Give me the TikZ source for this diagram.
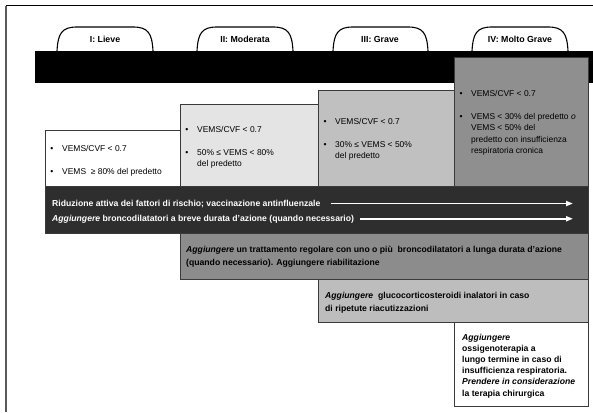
\documentclass[tikz,border=0pt]{standalone}
\usepackage{fontspec}
\setmainfont{Liberation Sans}
\usetikzlibrary{arrows.meta}
\definecolor{boxline}{HTML}{3A3A3A}
\definecolor{stageII}{HTML}{E4E4E4}
\definecolor{stageIII}{HTML}{C0C0C0}
\definecolor{stageIV}{HTML}{8F8F8F}
\definecolor{basebar}{HTML}{2E2E2E}
\definecolor{longacting}{HTML}{8C8C8C}
\definecolor{steroid}{HTML}{BDBDBD}
\begin{document}
\begin{tikzpicture}[x=1pt,y=-1pt,
  box/.style={draw=boxline, line width=0.8pt},
  tab/.style={draw=black, fill=white, line width=1.1pt},
  txt/.style={anchor=base west, inner sep=0pt, font=\fontsize{8.45}{10}\selectfont},
  btxt/.style={txt, font=\fontsize{8.65}{10}\selectfont\bfseries},
  wtxt/.style={btxt, text=white},
  tablabel/.style={anchor=base, inner sep=0pt, font=\fontsize{8.8}{10}\selectfont\bfseries},
  bul/.style={anchor=base, inner sep=0pt, font=\fontsize{8.6}{10}\selectfont},
  arr/.style={draw=white, line width=1.8pt, -{Triangle[length=7pt,width=5pt]}}]
\useasboundingbox (0,0) rectangle (593,412);
\fill[white] (0,0) rectangle (593,412);

% frame
\draw[black, line width=1pt] (6,6) -- (593,6);
\draw[gray!70!black, line width=1.6pt] (6,6) -- (6,412);

% stage tabs
\foreach \xa/\xb in {57/153, 197/293, 333/428, 472/568}{
  \draw[tab] (\xa,51) .. controls (\xa+1,33) and (\xa+5,27) .. (\xa+20,27)
     -- (\xb-20,27) .. controls (\xb-5,27) and (\xb-1,33) .. (\xb,51);
}
\node[tablabel] (tabI)   at (105,43) {I: Lieve};
\node[tablabel] (tabII)  at (245,43) {II: Moderata};
\node[tablabel] (tabIII) at (380,43) {III: Grave};
\node[tablabel] (tabIV)  at (520,43) {IV: Molto Grave};

% black band
\fill[black] (35,51) rectangle (593,83);

% stage boxes
\draw[box, fill=white]    (45,130) rectangle (190,186);
\draw[box, fill=stageII]  (180,104) rectangle (318,186);
\draw[box, fill=stageIII] (318,90) rectangle (454,186);
\draw[box, fill=stageIV]  (454,57) rectangle (588,186);

% stage I text
\node[bul] (bIa) at (52,151) {•};
\node[txt] (sIa) at (62,151) {VEMS/CVF < 0.7};
\node[bul] (bIb) at (52,174) {•};
\node[txt] (sIb) at (62,174) {VEMS\ \ ≥ 80\% del predetto};

% stage II text
\node[bul] (bIIa) at (187,132) {•};
\node[txt] (sIIa) at (197,132) {VEMS/CVF < 0.7};
\node[bul] (bIIb) at (187,155) {•};
\node[txt] (sIIb) at (197,155) {50\% ≤ VEMS < 80\%};
\node[txt] (sIIc) at (197,166) {del predetto};

% stage III text
\node[bul] (bIIIa) at (325,124) {•};
\node[txt] (sIIIa) at (335,124) {VEMS/CVF < 0.7};
\node[bul] (bIIIb) at (325,147) {•};
\node[txt] (sIIIb) at (335,147) {30\% ≤ VEMS < 50\%};
\node[txt] (sIIIc) at (335,158) {del predetto};

% stage IV text
\node[bul] (bIVa) at (461,96) {•};
\node[txt] (sIVa) at (471,96) {VEMS/CVF < 0.7};
\node[bul] (bIVb) at (461,119) {•};
\node[txt] (sIVb) at (471,119) {VEMS < 30\% del predetto \textit{o}};
\node[txt] (sIVc) at (471,130) {VEMS < 50\% del};
\node[txt] (sIVd) at (471,142) {predetto con insufficienza};
\node[txt] (sIVe) at (471,153) {respiratoria cronica};

% treatment bands
\draw[box, fill=basebar]    (45,186) rectangle (588,233);
\draw[box, fill=longacting] (180,233) rectangle (588,279);
\draw[box, fill=steroid]    (318,279) rectangle (588,322);
\draw[box, fill=white]      (454,322) rectangle (588,406);

\node[wtxt] (r1) at (52,206) {Riduzione attiva dei fattori di rischio; vaccinazione antinfluenzale};
\node[wtxt] (r2) at (52,221) {\textit{Aggiungere} broncodilatatori a breve durata d’azione (quando necessario)};
\coordinate (arrowend) at (573,0);
\draw[arr] ([xshift=10pt]r1.east) -- (r1.east -| arrowend);
\draw[arr] ([xshift=6pt]r2.east) -- (r2.east -| arrowend);

\node[btxt] (l1) at (186,252) {\textit{Aggiungere} un trattamento regolare con uno o più\ \ broncodilatatori a lunga durata d’azione};
\node[btxt] (l2) at (186,265) {(quando necessario). Aggiungere riabilitazione};

\node[btxt] (c1) at (325,298) {\textit{Aggiungere}\ \ glucocorticosteroidi inalatori in caso};
\node[btxt] (c2) at (325,311) {di ripetute riacutizzazioni};

\node[btxt] (o1) at (462,340) {\textit{Aggiungere}};
\node[btxt] (o2) at (462,351) {ossigenoterapia a};
\node[btxt] (o3) at (462,362) {lungo termine in caso di};
\node[btxt] (o4) at (462,373) {insufficienza respiratoria.};
\node[btxt] (o5) at (462,384) {\textit{Prendere in considerazione}};
\node[btxt] (o6) at (462,396) {la terapia chirurgica};
\end{tikzpicture}
\end{document}
